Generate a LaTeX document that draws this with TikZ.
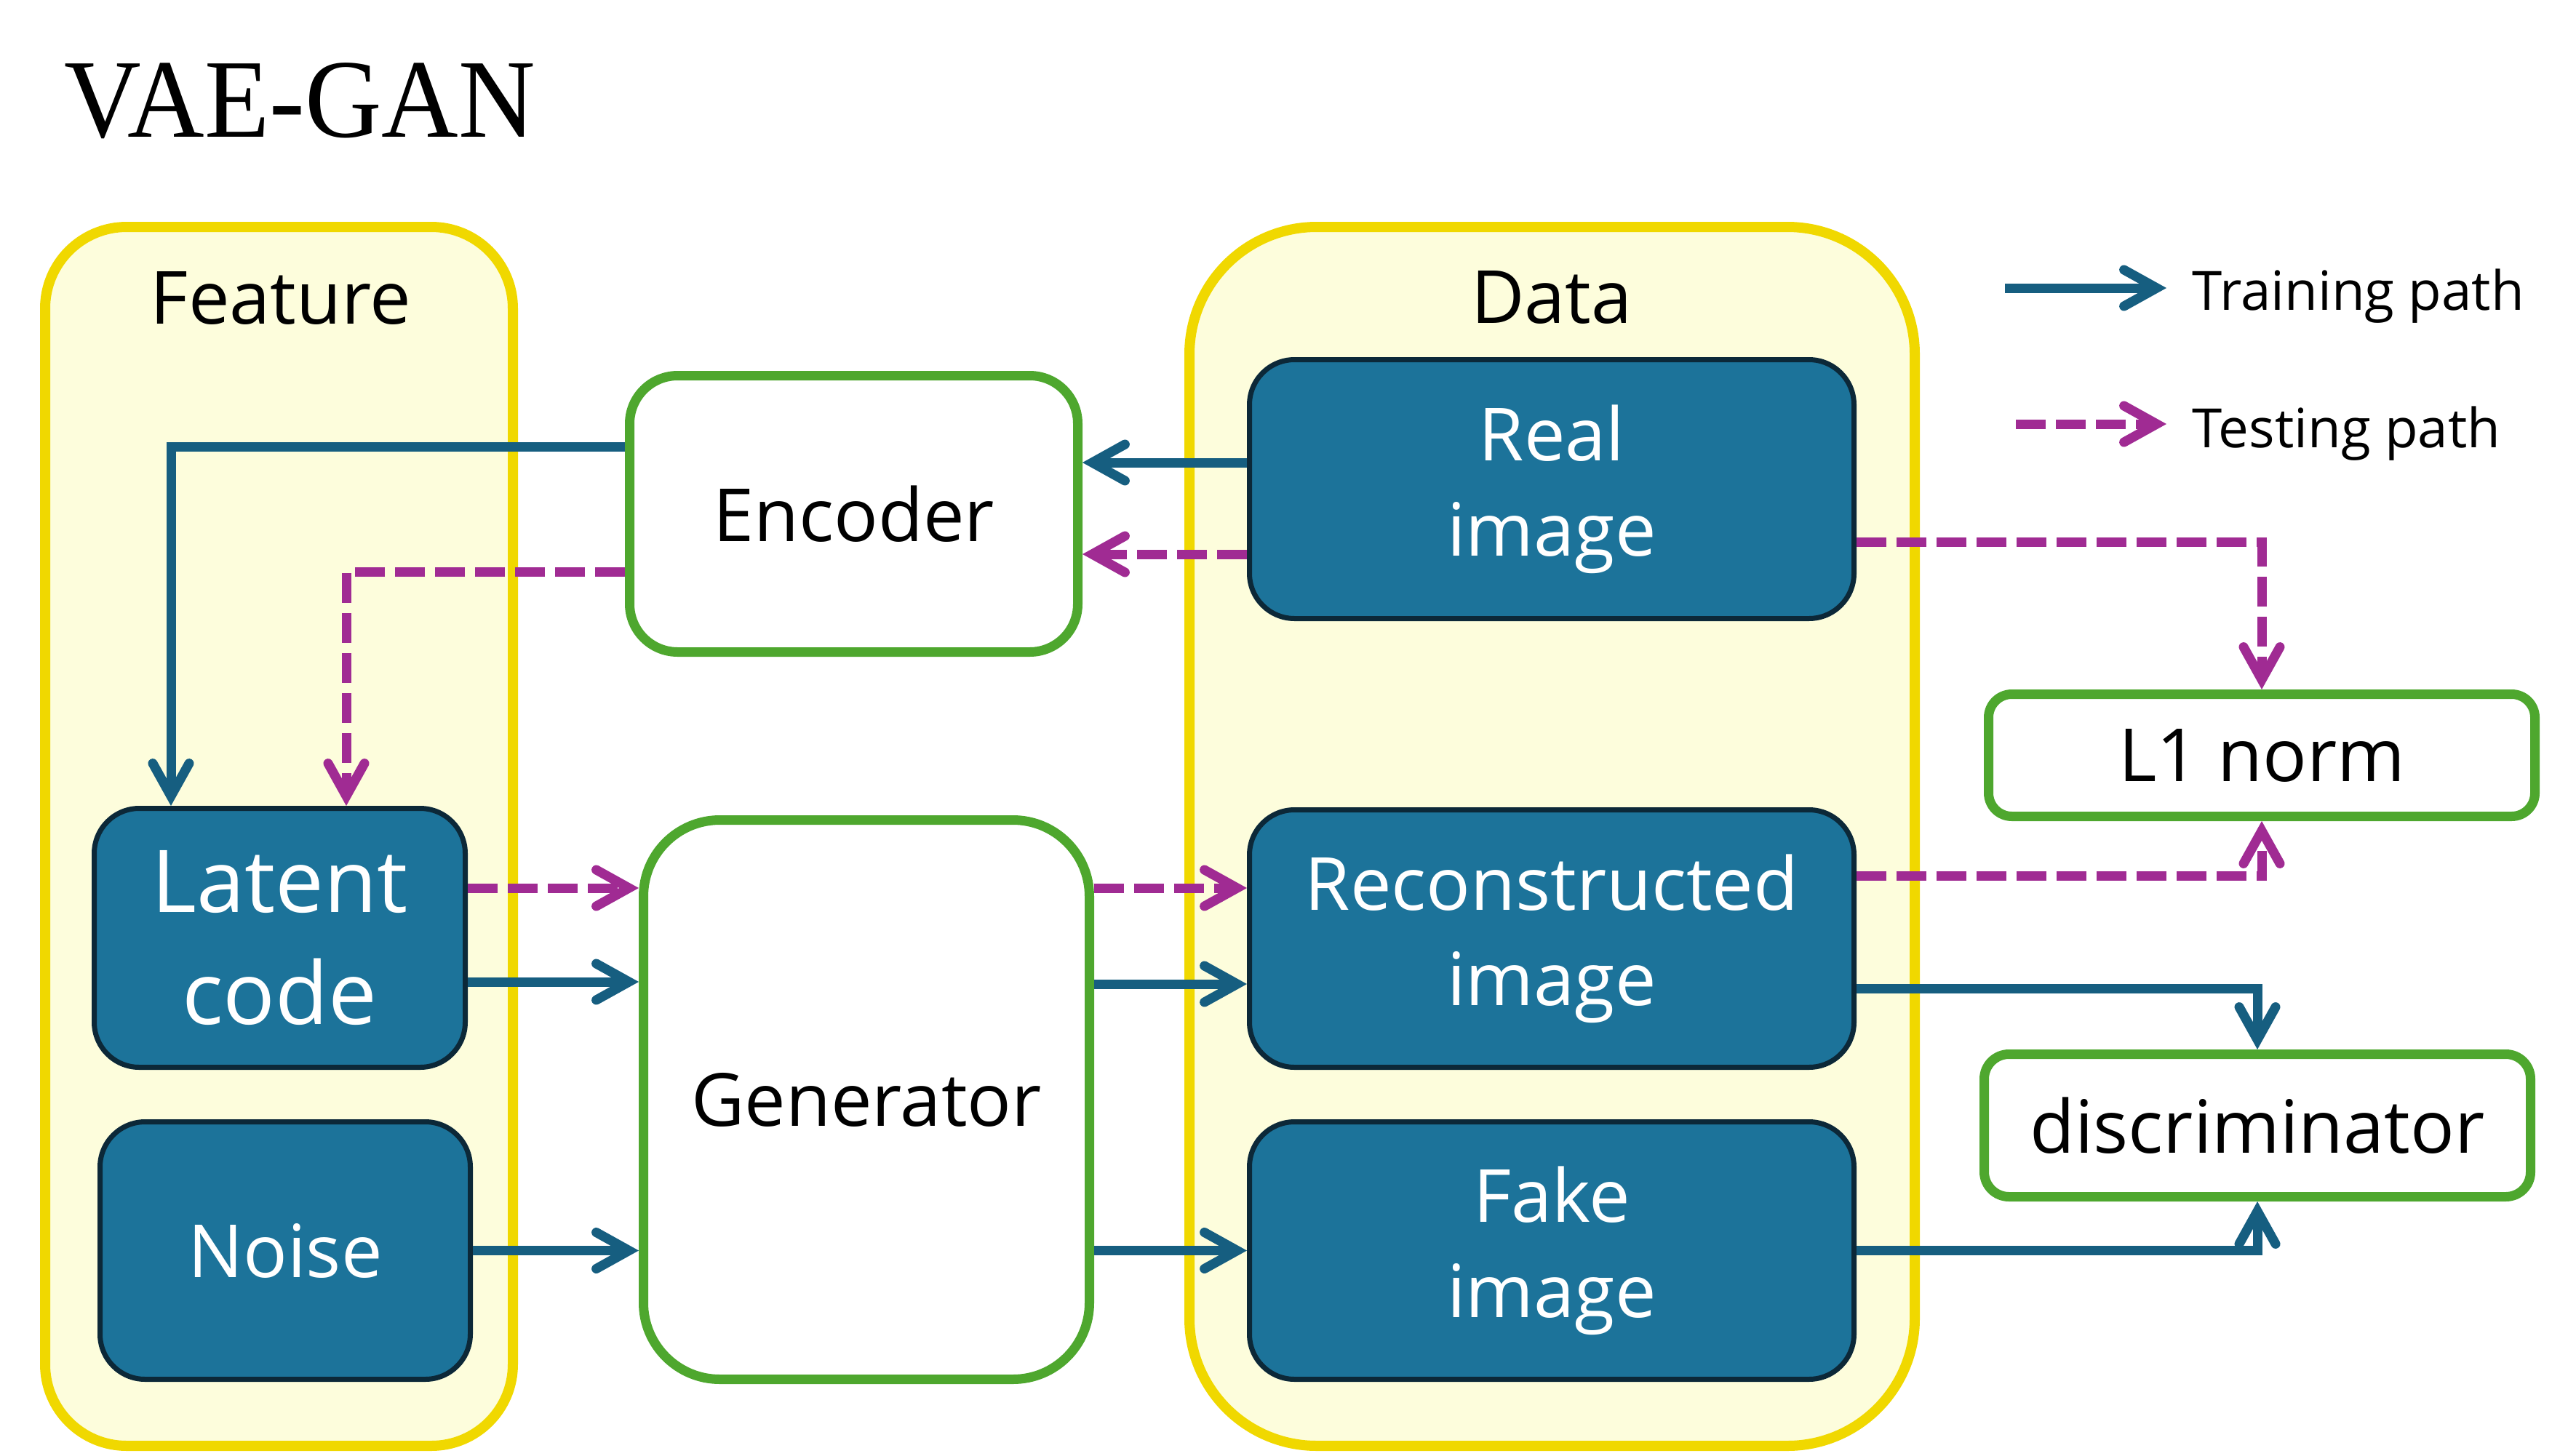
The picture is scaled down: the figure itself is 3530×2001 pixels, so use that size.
\documentclass[tikz,border=0pt]{standalone}
\usepackage{fontspec}
\setsansfont{Open Sans}
\newfontfamily\titlefont[FakeStretch=0.95]{Liberation Serif}
\usetikzlibrary{arrows.meta,calc,positioning}
\definecolor{boxblue}{RGB}{28,115,154}
\definecolor{boxnavy}{RGB}{12,40,56}
\definecolor{pathblue}{RGB}{22,94,128}
\definecolor{pathpink}{RGB}{160,43,147}
\definecolor{groupyellow}{RGB}{240,216,0}
\definecolor{groupfill}{RGB}{253,253,220}
\definecolor{netgreen}{RGB}{78,167,46}
\tikzstyle{vae gan}=[
    x=0.1mm, y=-0.1mm,
    >={Straight Barb[length=4.5mm,width=5mm,line cap=round,line join=miter]},
    every node/.style={
        align=center, inner sep=0pt,
        font=\sffamily\fontsize{28.7pt}{37.3pt}\selectfont,
    },
]
\tikzstyle{group box}=[draw=groupyellow, fill=groupfill, line width=1.4mm]
\tikzstyle{net box}=[draw=netgreen, fill=white, line width=1.3mm]
\tikzstyle{data box}=[draw=boxnavy, fill=boxblue, line width=0.7mm, text=white]
\tikzstyle{train path}=[->, draw=pathblue, line width=1.3mm]
\tikzstyle{test path}=[->, draw=pathpink, line width=1.3mm, dash pattern=on 4.1mm off 1.4mm]
\tikzstyle{legend}=[font=\sffamily\fontsize{21.2pt}{27pt}\selectfont]
\newcommand{\boxlabel}[2]{#1\\#2}

\begin{document}
\begin{tikzpicture}[vae gan]
    \useasboundingbox (0,0) rectangle (3530,2001);

    % title
    \node[font=\titlefont\fontsize{43.8pt}{50pt}\selectfont, anchor=base west] (title) at (88,188) {VAE-GAN};

    % the two groups
    \node[group box, minimum width=64.3mm, minimum height=167.6mm, rounded corners=11.2mm] (feature) at (383.5,1150) {};
    \node[anchor=base] (featlbl) at (386,445) {Feature};
    \node[group box, minimum width=99.7mm, minimum height=167.6mm, rounded corners=17.5mm] (data) at (2133.5,1150) {};
    \node[anchor=base] (datalbl) at (2133,444) {Data};

    % feature side
    \node[data box, minimum width=51mm, minimum height=35.6mm, rounded corners=6.2mm,
          font=\sffamily\fontsize{33.9pt}{44pt}\selectfont] (latent) at (384.5,1289.5) {\boxlabel{Latent}{code}};
    \node[data box, minimum width=50.9mm, minimum height=35.4mm, rounded corners=6.2mm,
          below=6.8mm of latent, xshift=0.75mm] (noise) {Noise};

    % networks
    \node[net box, minimum width=61.6mm, minimum height=38mm, rounded corners=6.6mm] (enc) at (1173.5,706.5) {Encoder};
    \node[net box, minimum width=61.3mm, minimum height=76.9mm, rounded corners=10.5mm] (gen) at (1191,1512) {Generator};

    % data side
    \node[data box, minimum width=83.1mm, minimum height=35.6mm, rounded corners=6.2mm] (real) at (2133,672.5) {\boxlabel{Real}{image}};
    \node[data box, minimum width=83.1mm, minimum height=35.4mm, rounded corners=6.2mm] (recon) at (2133,1290.5) {\boxlabel{Reconstructed}{image}};
    \node[data box, minimum width=83.1mm, minimum height=35.4mm, rounded corners=6.2mm,
          below=6.8mm of recon] (fake) {\boxlabel{Fake}{image}};

    % losses
    \node[net box, minimum width=75.1mm, minimum height=16.8mm, rounded corners=3.2mm] (l1) at (3109,1038.5) {L1 norm};
    \node[net box, minimum width=75.1mm, minimum height=19.6mm, rounded corners=3.4mm] (disc) at (3103,1547.5) {discriminator};

    % legend
    \coordinate (trainfrom) at (2756,396);
    \coordinate (trainto) at (2978,396);
    \node[legend, anchor=base west] (trainlbl) at (3013,426) {Training path};
    \coordinate (testfrom) at (2771,583);
    \coordinate (testto) at (2978,583);
    \node[legend, anchor=base west] (testlbl) at (3013,615) {Testing path};
    \draw[train path] (trainfrom) -- (trainto);
    \draw[test path] (testfrom) -- (testto);

    % encoder
    \draw[train path] ($(real.west)+(0,-36.5)$) coordinate (realtrain) -- (realtrain -| enc.east);
    \draw[test path] ($(real.west)+(0,89.5)$) coordinate (realtest) -- (realtest -| enc.east);
    \draw[train path] ($(enc.west)+(0,-92.5)$) -| ($(latent.north)+(-149.5,0)$);
    \draw[test path] ($(enc.west)+(0,79.5)$) -| ($(latent.north)+(91.5,0)$);

    % generator
    \draw[test path] ($(latent.east)+(0,-68.5)$) coordinate (lattest) -- (lattest -| gen.west);
    \draw[train path] ($(latent.east)+(0,60.5)$) coordinate (lattrain) -- (lattrain -| gen.west);
    \draw[train path] (noise.east) -- (noise.east -| gen.west);
    \draw[test path] ($(recon.west)+(0,-69.5)$) coordinate (rectest) (rectest -| gen.east) -- (rectest);
    \draw[train path] ($(recon.west)+(0,62.5)$) coordinate (rectrain) (rectrain -| gen.east) -- (rectrain);
    \draw[train path] (fake.west -| gen.east) -- (fake.west);

    % losses
    \draw[test path] ($(real.east)+(0,72.5)$) -| (l1.north);
    \draw[test path] ($(recon.east)+(0,-86.5)$) -| (l1.south);
    \draw[train path] ($(recon.east)+(0,68.5)$) -| (disc.north);
    \draw[train path] (fake.east) -| (disc.south);
\end{tikzpicture}
\end{document}
